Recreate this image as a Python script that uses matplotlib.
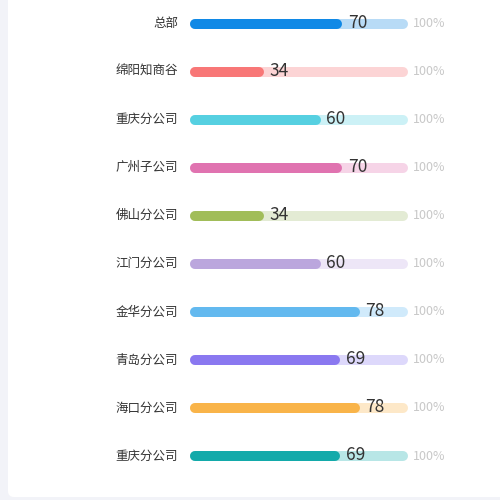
import matplotlib
matplotlib.use("Agg")
import matplotlib.pyplot as plt
from matplotlib.patches import FancyBboxPatch

plt.rcParams['font.family'] = ['Noto Sans CJK SC', 'DejaVu Sans']

categories = ["总部", "绵阳知商谷", "重庆分公司", "广州子公司", "佛山分公司",
              "江门分公司", "金华分公司", "青岛分公司", "海口分公司", "重庆分公司"]
values = [70, 34, 60, 70, 34, 60, 78, 69, 78, 69]
max_value = 100
bar_colors = ["#1089e6", "#f87777", "#56d0e1", "#e073b0", "#a1bd59",
              "#bba6dd", "#63b9ef", "#8a78f0", "#f9b449", "#13aaaa"]
track_colors = ["#b8dbf6", "#fcd4d5", "#ccf1f6", "#f6d4e7", "#e3ebd4",
                "#ede6f7", "#d0eafb", "#ddd8fb", "#fde8c8", "#b8e6e6"]

W, H, DPI = 500, 500, 100
fig = plt.figure(figsize=(W / DPI, H / DPI), dpi=DPI, facecolor="#f2f3f8")

# white card
card = FancyBboxPatch((8 / W, 3 / H), 520 / W, 520 / H,
                      boxstyle="round,pad=0,rounding_size=0.012",
                      transform=fig.transFigure, facecolor="white",
                      edgecolor="none", zorder=-5)
fig.patches.append(card)

x0_px, x1_px = 189.5, 408.0
first_px, step_px = 23.5, 48.06
ax = fig.add_axes([x0_px / W, 0, (x1_px - x0_px) / W, 1])
ax.set_zorder(5)
ax.set_xlim(0, max_value)
ax.set_ylim((H - first_px) / step_px, -first_px / step_px)
ax.axis("off")
ax.patch.set_alpha(0)

bar_h_px = 10
lw = bar_h_px * 72 / DPI
r = (bar_h_px / 2) * max_value / (x1_px - x0_px)  # cap radius in data units

for i, (cat, v) in enumerate(zip(categories, values)):
    ax.plot([r, max_value - r], [i, i], color=track_colors[i], lw=lw,
            solid_capstyle="round", zorder=1)
    ax.plot([r, v - r], [i, i], color=bar_colors[i], lw=lw,
            solid_capstyle="round", zorder=2)
    ax.annotate(cat, xy=(0, i), xytext=(-8.3, 0), textcoords="offset points",
                ha="right", va="center", fontsize=9, color="#333333")
    ax.annotate(str(v), xy=(v, i), xytext=(3.8, 0.5), textcoords="offset points",
                ha="left", va="center", fontsize=12.5, color="#333333",
                fontweight="light", zorder=3)
    ax.annotate(f"{max_value}%", xy=(max_value, i), xytext=(3.8, 0),
                textcoords="offset points", ha="left", va="center",
                fontsize=9, color="#c8c8c8", fontweight="light")

fig.savefig("out.png", dpi=DPI, facecolor=fig.get_facecolor())
